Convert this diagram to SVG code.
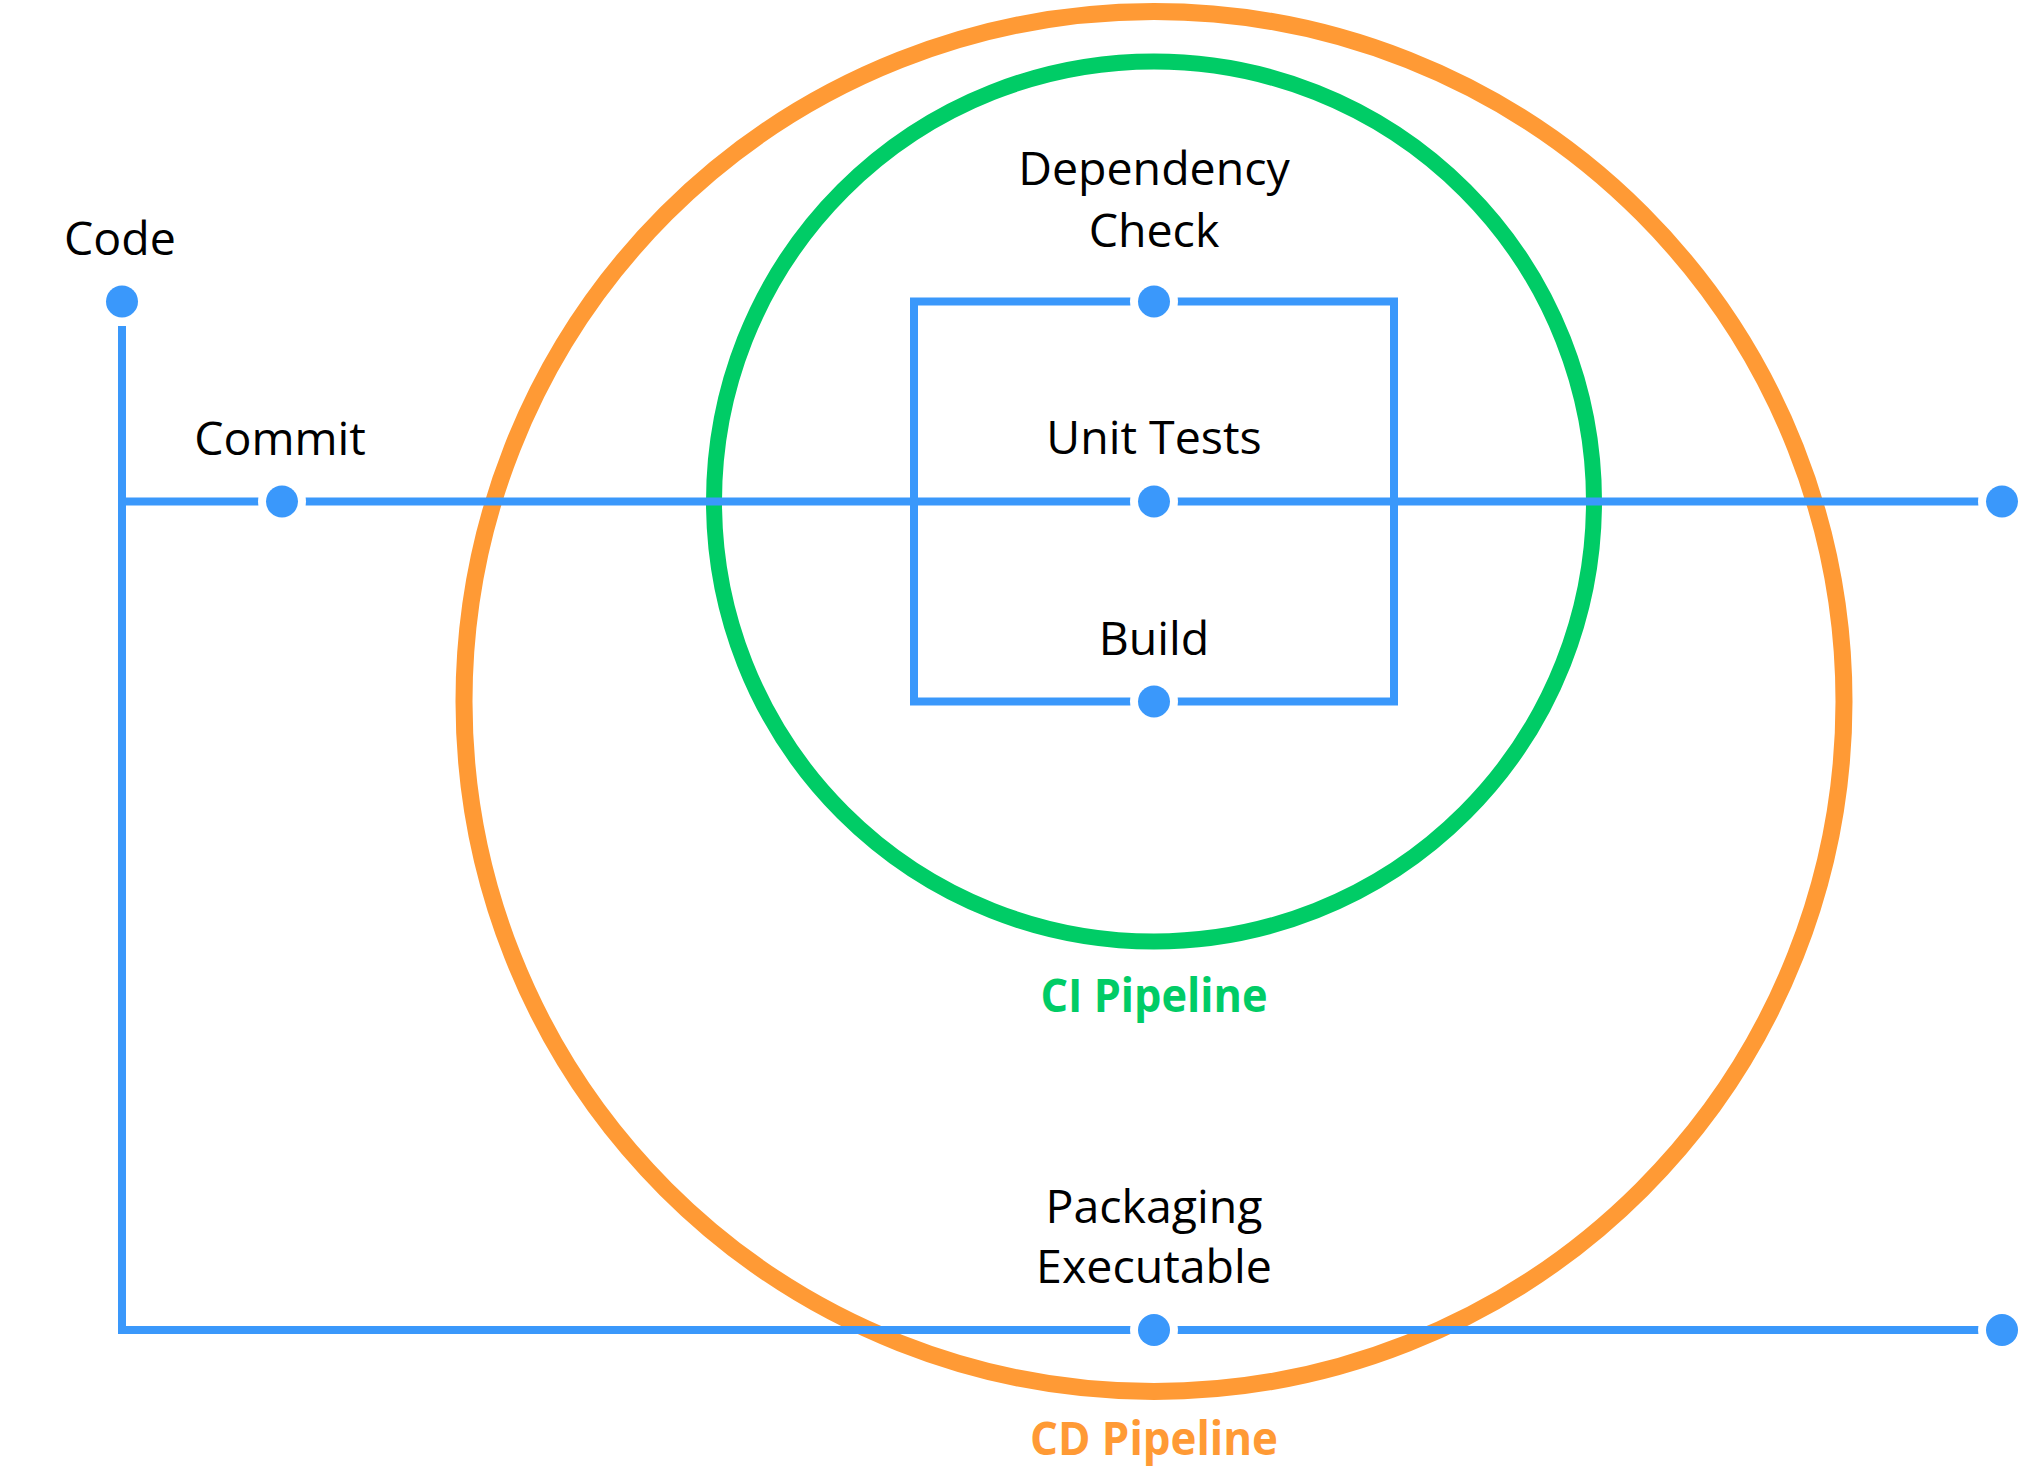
<svg xmlns="http://www.w3.org/2000/svg" width="2028" height="1484" viewBox="0 0 2028 1484">
<style>
.lbl{font-family:"Open Sans","DejaVu Sans",sans-serif;font-size:46.5px;fill:#000;text-anchor:middle}
.ttl{font-family:"Open Sans","DejaVu Sans",sans-serif;font-size:46px;font-weight:bold;text-anchor:middle}
.wire{fill:none;stroke:#3A98FB;stroke-width:8;stroke-linejoin:miter}
.halo{fill:#fff}
.dot{fill:#3A98FB}
</style>
<defs>
<g id="node"><circle class="halo" r="24"/><circle class="dot" r="16"/></g>
</defs>
<g id="cd-pipeline">
<circle cx="1154" cy="701.5" r="690" fill="none" stroke="#FF9A35" stroke-width="17"/>
<text class="ttl" x="1154" y="1455" fill="#FF9A35" textLength="248" lengthAdjust="spacingAndGlyphs">CD Pipeline</text>
</g>
<g id="ci-pipeline">
<circle cx="1154" cy="501.5" r="440" fill="none" stroke="#00CC66" stroke-width="16"/>
<text class="ttl" x="1154" y="1012" fill="#00CC66" textLength="227" lengthAdjust="spacingAndGlyphs">CI Pipeline</text>
</g>
<g id="connectors">
<path class="wire" d="M122,326 V1330 H2002"/>
<path class="wire" d="M122,501.5 H2002"/>
<rect class="wire" x="914" y="301.5" width="480" height="400"/>
</g>
<g id="code"><use href="#node" x="122" y="301.5"/><text class="lbl" x="120" y="255">Code</text></g>
<g id="commit"><use href="#node" x="282" y="501.5"/><text class="lbl" x="280" y="455">Commit</text></g>
<g id="dependency-check"><use href="#node" x="1154" y="301.5"/><text class="lbl" x="1154" y="185">Dependency</text><text class="lbl" x="1154" y="247">Check</text></g>
<g id="unit-tests"><use href="#node" x="1154" y="501.5"/><text class="lbl" x="1154" y="454">Unit Tests</text></g>
<g id="build"><use href="#node" x="1154" y="701.5"/><text class="lbl" x="1154" y="655">Build</text></g>
<g id="ci-end"><use href="#node" x="2002" y="501.5"/></g>
<g id="packaging-executable"><use href="#node" x="1154" y="1330"/><text class="lbl" x="1154" y="1223">Packaging</text><text class="lbl" x="1154" y="1283">Executable</text></g>
<g id="cd-end"><use href="#node" x="2002" y="1330"/></g>
</svg>
